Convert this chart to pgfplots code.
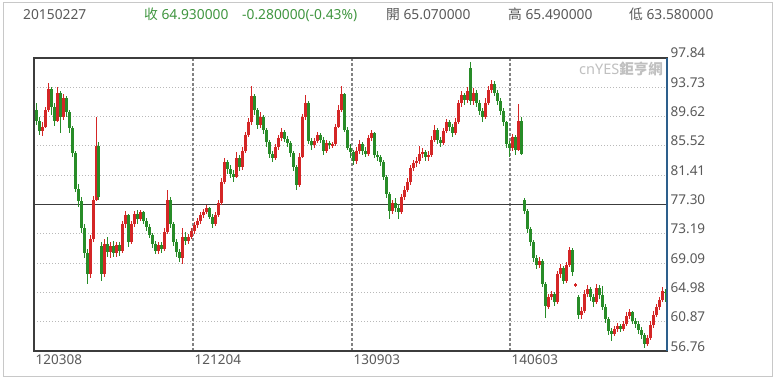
\documentclass[border=0pt]{standalone}
\usepackage{fontspec}
\setmainfont{Noto Sans}
\newfontfamily\cjk{Noto Sans CJK TC}
\usepackage{pgfplots}
\pgfplotsset{compat=1.18}
\usepackage{pgfplotstable}
\definecolor{upred}{RGB}{212,38,38}
\definecolor{dngreen}{RGB}{40,140,40}
\definecolor{hdrgreen}{RGB}{64,150,64}
\definecolor{hdrgray}{RGB}{90,90,90}
\definecolor{framegray}{RGB}{60,60,60}
\definecolor{rightblue}{RGB}{45,95,140}

\pgfplotstableread{
x o h l c
36 90.5 91.5 88.5 89.0
39 89.0 89.5 87.0 87.6
42 87.6 88.8 86.9 88.2
45 88.2 91.0 88.0 90.5
48 90.5 94.4 90.2 93.5
51 93.5 93.8 89.8 91.0
54 91.0 91.5 88.3 89.0
57 89.0 93.8 88.8 93.0
60 93.0 93.2 87.3 89.5
63 89.5 92.8 89.2 92.3
66 92.3 92.5 89.6 90.2
69 90.2 90.5 87.3 88.0
72 88.0 88.3 84.0 84.5
75 84.5 84.8 79.0 79.5
78 79.5 80.2 76.9 77.8
81 77.8 78.3 73.3 74.0
84 74.0 74.5 69.8 70.5
87 70.5 71.0 66.2 67.5
90 67.5 73.0 67.0 72.5
93 72.5 78.5 72.0 78.0
96 78.0 89.5 77.8 85.5
98 85.5 86.0 78.0 78.3
101 71.5 72.0 66.6 67.5
104 67.5 72.5 67.2 71.8
107 71.8 72.8 70.0 70.6
110 70.6 72.0 69.8 71.5
113 71.5 72.2 70.0 70.5
116 70.5 72.0 69.9 71.6
119 71.6 72.0 70.1 70.8
122 70.8 75.0 70.5 74.5
125 74.5 76.4 74.0 75.8
128 75.8 76.0 71.4 72.0
131 72.0 75.0 71.8 74.6
134 74.6 76.4 74.2 76.0
137 76.0 76.5 74.6 75.3
140 75.3 76.5 75.0 76.2
143 76.2 76.4 74.5 75.0
146 75.0 75.4 73.6 74.2
149 74.2 74.5 72.6 73.0
152 73.0 73.3 71.2 71.8
155 71.8 72.2 70.3 70.8
158 70.8 72.0 70.4 71.6
161 71.6 72.0 70.5 71.0
164 71.0 74.0 70.8 73.5
167 73.5 79.3 73.2 78.0
170 78.0 78.3 74.0 74.5
173 74.5 74.8 71.5 72.0
176 72.0 72.4 70.0 70.6
179 70.6 71.0 69.3 69.8
182 69.8 74.0 69.0 72.8
185 72.8 73.4 71.6 72.2
188 72.2 73.2 71.8 72.8
191 72.8 74.0 72.5 73.6
194 73.6 74.9 73.2 74.4
197 74.4 75.4 74.0 75.0
200 75.0 76.2 74.6 75.8
203 75.8 76.7 75.4 76.3
206 76.3 77.2 75.9 76.8
209 76.8 77.0 75.2 75.6
212 75.6 75.9 74.0 74.6
215 74.6 76.2 74.3 75.8
218 75.8 78.0 75.5 77.5
221 77.5 81.0 77.2 80.5
224 80.5 83.8 80.2 83.2
227 83.2 83.6 81.6 82.3
230 82.3 82.8 81.0 81.6
233 81.6 82.2 80.5 81.2
236 81.2 84.6 81.0 83.8
239 83.8 84.2 82.0 82.5
242 82.5 85.3 82.2 84.8
245 84.8 87.5 84.5 87.0
248 87.0 89.4 86.7 88.8
251 88.8 93.9 88.5 92.5
254 92.5 92.8 89.8 90.5
257 90.5 90.8 87.9 88.4
260 88.4 90.2 88.0 89.6
263 89.6 89.9 87.2 87.8
266 87.8 88.0 85.4 86.0
269 86.0 86.3 83.8 84.4
272 84.4 84.8 83.2 83.8
275 83.8 85.8 83.5 85.4
278 85.4 87.0 85.0 86.6
281 86.6 88.0 86.2 87.4
284 87.4 87.8 86.0 86.5
287 86.5 86.9 85.3 85.9
290 85.9 86.2 84.0 84.5
293 84.5 84.8 82.0 82.6
296 82.6 82.9 79.4 80.0
299 80.0 84.5 79.8 84.0
302 84.0 90.0 83.8 89.5
305 89.5 92.7 89.2 91.5
308 91.5 91.8 85.8 86.2
311 86.2 86.6 85.0 85.6
314 85.6 86.6 85.2 86.2
317 86.2 87.5 85.9 87.0
320 87.0 87.3 85.9 86.4
323 86.4 86.7 84.2 84.8
326 84.8 86.3 84.5 85.9
329 85.9 86.2 85.1 85.6
332 85.6 86.1 85.2 85.8
335 85.8 88.6 85.5 88.2
338 88.2 91.2 88.0 90.6
341 90.6 93.9 90.3 92.8
344 92.8 93.0 87.5 87.8
347 87.8 88.1 84.9 85.2
350 85.2 85.8 83.8 84.6
353 84.6 85.0 82.9 83.4
356 83.4 85.3 83.0 84.8
359 84.8 86.3 84.4 85.8
362 85.8 86.1 84.3 84.8
365 84.8 85.3 83.9 84.4
368 84.4 87.1 84.1 86.6
371 86.6 87.8 86.2 87.3
374 87.3 87.5 83.8 84.3
377 84.3 84.8 83.4 83.9
380 83.9 84.3 82.7 83.2
383 83.2 83.5 80.8 81.2
386 81.2 81.5 78.2 78.8
389 78.8 79.0 75.3 76.4
392 76.4 78.0 75.9 77.5
395 77.5 78.2 76.2 76.8
398 76.8 77.4 75.3 76.2
401 76.2 78.8 76.0 78.4
404 78.4 79.9 78.0 79.4
407 79.4 81.0 79.0 80.4
410 80.4 82.9 80.0 82.4
413 82.4 83.6 82.0 83.1
416 83.1 84.0 82.6 83.4
419 83.4 85.5 83.0 84.4
422 84.4 85.2 83.8 84.6
425 84.6 85.0 83.4 84.0
428 84.0 84.8 83.4 84.3
431 84.3 86.9 84.0 86.4
434 86.4 88.4 86.0 87.8
437 87.8 88.0 85.8 86.4
440 86.4 86.8 85.3 85.9
443 85.9 88.0 85.6 87.6
446 87.6 89.3 87.3 88.8
449 88.8 89.2 87.6 88.2
452 88.2 88.6 86.8 87.3
455 87.3 89.4 87.0 88.9
458 88.9 92.0 88.6 91.5
461 91.5 93.2 91.0 92.6
464 92.6 93.0 91.2 92.0
467 92.0 93.8 91.6 93.2
470 96.5 97.3 91.2 91.8
473 91.8 93.6 91.3 93.0
476 93.0 93.3 91.0 91.6
479 91.6 92.0 89.8 90.4
482 90.4 90.9 88.9 89.6
485 89.6 92.2 89.3 91.6
488 91.6 93.9 91.3 93.4
491 93.4 94.7 93.0 94.2
494 94.2 94.6 92.5 93.0
497 93.0 93.3 91.2 91.8
500 91.8 92.2 89.9 90.4
503 90.4 90.8 88.3 88.8
506 88.8 89.0 85.2 85.8
509 85.8 86.2 84.0 85.2
512 85.2 87.2 84.8 86.7
515 86.7 87.0 84.3 85.0
518 85.0 91.4 84.8 89.0
521 89.0 89.5 84.2 84.4
524 78.0 78.2 76.0 76.4
527 76.4 76.6 73.3 73.8
530 73.8 74.1 71.5 72.0
533 72.0 72.3 69.3 69.8
536 69.8 70.2 68.3 68.8
539 68.8 70.0 68.4 69.4
542 69.4 69.6 65.8 66.2
545 66.2 66.4 61.4 63.0
548 63.0 64.8 62.6 64.3
551 64.3 65.2 63.9 64.7
554 64.7 65.0 63.1 63.6
557 63.6 68.0 63.4 67.5
560 67.5 69.0 67.0 68.4
563 68.4 68.7 66.1 66.6
566 66.6 69.3 66.3 68.8
569 68.8 71.4 68.5 70.9
572 70.9 71.2 67.3 67.8
575 65.9 66.3 65.8 66.1
578 64.4 64.6 61.2 61.8
581 61.8 63.0 61.3 62.4
584 62.4 65.3 62.1 64.8
587 64.8 66.0 64.4 65.4
590 65.4 65.7 63.8 64.4
593 64.4 64.8 63.0 63.6
596 63.6 66.1 63.3 65.6
599 65.6 66.0 64.0 64.6
602 64.6 65.9 62.5 63.0
605 63.0 63.3 60.7 61.2
608 61.2 61.5 59.0 59.6
611 59.6 60.0 58.2 59.2
614 59.2 60.3 58.8 59.8
617 59.8 60.7 59.4 60.2
620 60.2 60.6 59.4 59.9
623 59.9 61.0 59.5 60.6
626 60.6 62.2 60.3 61.6
629 61.6 62.6 61.2 62.2
632 62.2 62.4 60.5 61.0
635 61.0 61.4 60.0 60.5
638 60.5 60.9 59.2 59.7
641 59.7 60.1 58.5 59.0
644 59.0 59.3 57.2 57.8
647 57.8 59.0 57.4 58.6
650 58.6 60.9 58.3 60.4
653 60.4 62.3 60.0 61.8
656 61.8 63.4 61.5 62.9
659 62.9 64.4 62.5 63.9
662 63.9 65.8 63.6 65.2
665 65.07 65.49 63.58 64.93
}\candles

\pgfplotsset{
  candle/.style 2 args={draw=none, mark=none, forget plot,
    error bars/.cd, y dir=both, y explicit, error mark=none,
    error bar style={draw=#1, solid, line width=#2}},
}

\begin{document}
\begin{tikzpicture}
\useasboundingbox (0bp,0bp) rectangle (775bp,380bp);
\fill[white] (0bp,0bp) rectangle (775bp,380bp);
\draw[color={rgb,255:red,200;green,200;blue,200}, line width=1bp] (3bp,3bp) rectangle (772bp,377bp);
\begin{axis}[
  at={(34bp,29bp)}, anchor=south west,
  width=633bp, height=293bp, scale only axis,
  xmin=34, xmax=667, ymin=56.76, ymax=97.84,
  axis line style={draw=framegray, line width=1.7bp},
  major tick length=0pt,
  xtick={34,193,352,510},
  xticklabels={120308,121204,130903,140603},
  ytick={56.76,60.87,64.98,69.09,73.19,77.30,81.41,85.52,89.62,93.73,97.84},
  yticklabels={56.76,60.87,64.98,69.09,73.19,77.30,81.41,85.52,89.62,93.73,97.84},
  yticklabel pos=right,
  xmajorgrids, ymajorgrids,
  x grid style={draw={rgb,255:red,130;green,130;blue,130}, line width=1.2bp, dash pattern=on 3bp off 2bp},
  y grid style={draw={rgb,255:red,185;green,185;blue,185}, line width=0.8bp, dash pattern=on 1bp off 2bp},
  ticklabel style={font=\fontsize{13.5bp}{15bp}\selectfont, text=hdrgray},
  xticklabel style={anchor=north west, inner sep=0pt, xshift=1.5bp, yshift=-4bp},
  yticklabel style={anchor=base west, inner sep=0pt, xshift=3.5bp},
  /pgf/number format/assume math mode=true,
  clip=true,
]
% reference line at 77.30
\addplot[draw=framegray, line width=1.3bp, forget plot] coordinates {(34,77.30) (667,77.30)};
% wicks
\addplot[candle={upred}{1.0bp}]
  table[x=x, y expr={\thisrow{c}>=\thisrow{o} ? (\thisrow{h}+\thisrow{l})/2 : nan},
        y error expr={(\thisrow{h}-\thisrow{l})/2}] {\candles};
\addplot[candle={dngreen}{1.0bp}]
  table[x=x, y expr={\thisrow{c}<\thisrow{o} ? (\thisrow{h}+\thisrow{l})/2 : nan},
        y error expr={(\thisrow{h}-\thisrow{l})/2}] {\candles};
% bodies
\addplot[candle={upred}{3.0bp}]
  table[x=x, y expr={\thisrow{c}>=\thisrow{o} ? (\thisrow{o}+\thisrow{c})/2 : nan},
        y error expr={max(abs(\thisrow{o}-\thisrow{c})/2,0.08)}] {\candles};
\addplot[candle={dngreen}{3.0bp}]
  table[x=x, y expr={\thisrow{c}<\thisrow{o} ? (\thisrow{o}+\thisrow{c})/2 : nan},
        y error expr={max(abs(\thisrow{o}-\thisrow{c})/2,0.08)}] {\candles};
\end{axis}
% right border in blue
\draw[rightblue, line width=1.7bp] (667bp,29bp) -- (667bp,322bp);
% header
\begin{scope}[every node/.style={inner sep=0pt, anchor=base west, font=\fontsize{13.8bp}{16bp}\selectfont}]
\node[text=hdrgray] at (23bp,360bp) {20150227};
\node[text=hdrgreen] at (144bp,360bp) {{\cjk 收} 64.930000};
\node[text=hdrgreen] at (242bp,360bp) {-0.280000(-0.43\%)};
\node[text=hdrgray] at (386bp,360bp) {{\cjk 開} 65.070000};
\node[text=hdrgray] at (508bp,360bp) {{\cjk 高} 65.490000};
\node[text=hdrgray] at (629bp,360bp) {{\cjk 低} 63.580000};
\end{scope}
% watermark
\node[inner sep=0pt, anchor=east, text={rgb,255:red,192;green,192;blue,192}, font=\fontsize{14.5bp}{16bp}\selectfont\bfseries] at (663bp,311bp) {cnYES{\cjk 鉅亨網}};
\end{tikzpicture}
\end{document}
